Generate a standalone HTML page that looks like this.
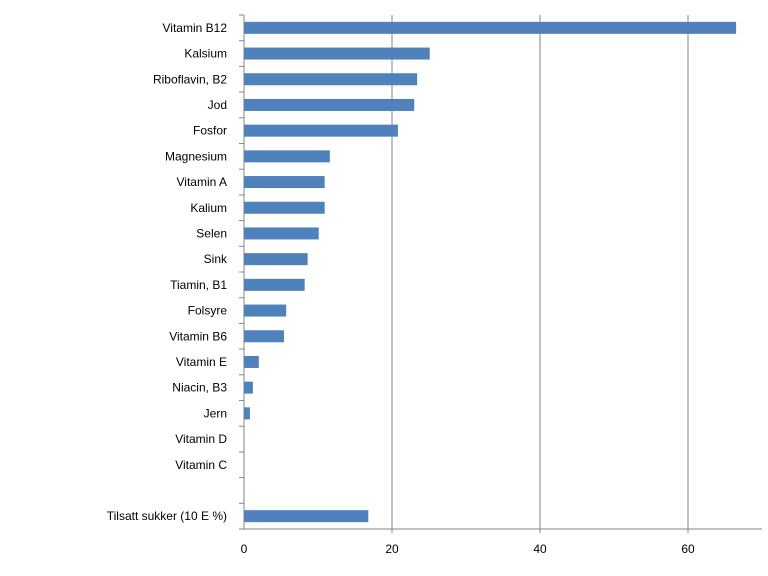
<!DOCTYPE html>
<html><head><meta charset="utf-8"><style>
html,body{margin:0;padding:0;background:#fff;width:768px;height:576px;overflow:hidden}
text{font-family:"Liberation Sans",sans-serif;font-size:12px;fill:#000}
</style></head><body>
<svg id="chart" width="768" height="576" xmlns="http://www.w3.org/2000/svg"></svg>
<script>
const categories=["Vitamin B12","Kalsium","Riboflavin, B2","Jod","Fosfor","Magnesium","Vitamin A","Kalium","Selen","Sink","Tiamin, B1","Folsyre","Vitamin B6","Vitamin E","Niacin, B3","Jern","Vitamin D","Vitamin C","","Tilsatt sukker (10 E %)"];
const values=[66.5,25.1,23.4,23.0,20.8,11.6,10.9,10.9,10.1,8.6,8.2,5.7,5.4,2.0,1.2,0.8,0,0,null,16.8];
const xTicks=[0,20,40,60];
const NS="http://www.w3.org/2000/svg";
const svgEl=document.getElementById('chart');
const x0=244,pxPer=7.4,plotTop=15,plotBottom=529;
const step=(plotBottom-plotTop)/categories.length;
const xs=v=>x0+v*pxPer;
const yc=i=>plotTop+step*(i+0.5);
function mk(t,a){const e=document.createElementNS(NS,t);for(const k in a)e.setAttribute(k,a[k]);svgEl.appendChild(e);return e;}
xTicks.forEach(t=>{
 if(t>0){const g=mk('line',{x1:xs(t),x2:xs(t),y1:plotTop,y2:plotBottom+4,stroke:'#868686','stroke-width':1});
 
 }
 const l=mk('text',{x:xs(t),y:553,'text-anchor':'middle'});l.textContent=t;
 
 
});
const ax=mk('line',{x1:x0,x2:x0,y1:plotTop,y2:plotBottom,stroke:'#868686','stroke-width':1});


const bx=mk('line',{x1:x0-4,x2:762,y1:plotBottom,y2:plotBottom,stroke:'#868686','stroke-width':1});


for(let i=0;i<=categories.length;i++){
 const tk=mk('line',{x1:x0-5,x2:x0,y1:plotTop+step*i,y2:plotTop+step*i,stroke:'#868686','stroke-width':1});
 
 
}
categories.forEach((c,i)=>{
 if(c){const t=mk('text',{x:227,y:yc(i)+4,'text-anchor':'end'});t.textContent=c;
 
 }
 const v=values[i];
 if(v!=null&&v>0){const r=mk('rect',{x:x0,y:yc(i)-6,width:xs(v)-x0,height:12,fill:'#4F81BD'});
 
 }
});
</script>
</body></html>
